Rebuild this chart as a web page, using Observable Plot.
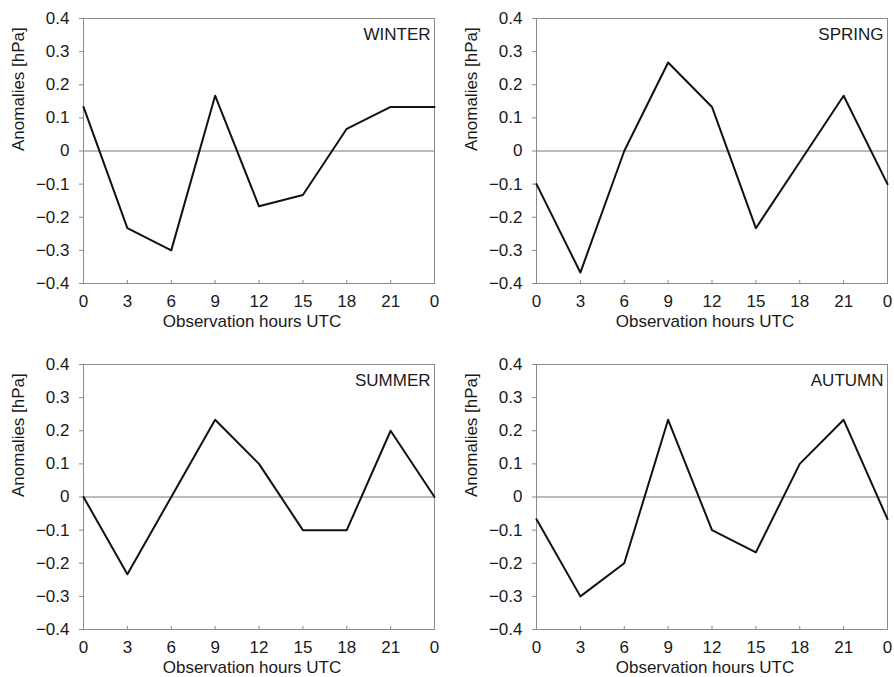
<!DOCTYPE html>
<html>
<head>
<meta charset="utf-8">
<script src="https://cdn.jsdelivr.net/npm/d3@7"></script>
<script src="https://cdn.jsdelivr.net/npm/@observablehq/plot@0.6"></script>
<style>
  html, body { margin: 0; padding: 0; background: #fff; }
  #chart { position: relative; width: 894px; height: 677px; overflow: hidden; font-family: "Liberation Sans", Arial, sans-serif; }
  .panel { position: absolute; }
</style>
</head>
<body>
<div id="chart"></div>
<script>
// Observation hours (0..21 UTC and 0 UTC of next day)
const hours = [0, 3, 6, 9, 12, 15, 18, 21, 24];
const hourLabels = ["0", "3", "6", "9", "12", "15", "18", "21", "0"];
const yTicks = [-0.4, -0.3, -0.2, -0.1, 0, 0.1, 0.2, 0.3, 0.4];

const seasons = ["WINTER", "SPRING", "SUMMER", "AUTUMN"];
const winter = [0.133, -0.233, -0.3, 0.167, -0.167, -0.133, 0.067, 0.133, 0.133];
const spring = [-0.1, -0.367, 0, 0.267, 0.133, -0.233, -0.033, 0.167, -0.1];
const summer = [0, -0.233, 0, 0.233, 0.1, -0.1, -0.1, 0.2, 0];
const autumn = [-0.067, -0.3, -0.2, 0.233, -0.1, -0.167, 0.1, 0.233, -0.067];

const xLabel = "Observation hours UTC";
const yLabel = "Anomalies [hPa]";

const seriesValues = [winter, spring, summer, autumn];
const layout = [
  {left: 0, top: 0, width: 447, marginRight: 13},
  {left: 453, top: 0, width: 441, marginRight: 7},
  {left: 0, top: 346, width: 447, marginRight: 13},
  {left: 453, top: 346, width: 441, marginRight: 7}
];

const fmtY = d => d === 0 ? "0" : (d < 0 ? "\u2212" : "") + Math.abs(d).toFixed(1);
const axisColor = "#8a8a8a";
const textColor = "#1a1a1a";
const fs = 17;

const chart = document.getElementById("chart");

seasons.forEach((name, i) => {
  const vals = seriesValues[i];
  const data = hours.map((h, j) => ({hour: h, value: vals[j]}));
  const L = layout[i];
  const svg = Plot.plot({
    width: L.width,
    height: 340,
    marginLeft: 83,
    marginRight: L.marginRight,
    marginTop: 18,
    marginBottom: 57,
    style: {fontFamily: '"Liberation Sans", Arial, sans-serif', fontSize: fs + "px", color: textColor, background: "transparent"},
    x: {domain: [0, 24]},
    y: {domain: [-0.4, 0.4]},
    marks: [
      Plot.ruleY([0], {stroke: "#777", strokeWidth: 1}),
      Plot.frame({stroke: axisColor, strokeWidth: 1}),
      Plot.axisY(yTicks, {tickSize: 4, tickPadding: 10, tickFormat: fmtY, stroke: axisColor, label: null, fill: textColor, fontSize: fs}),
      Plot.axisX(hours, {tickSize: 0, tickPadding: 11, tickFormat: d => hourLabels[hours.indexOf(d)], label: null, fill: textColor, fontSize: fs}),
      Plot.ruleX(hours, {x: d => d, y1: -0.4, y2: -0.4, insetTop: -3, stroke: axisColor}),
      Plot.line(data, {x: "hour", y: "value", stroke: "#111", strokeWidth: 2}),
      Plot.text([name], {frameAnchor: "top-right", dx: -4, dy: 9, textAnchor: "end", fill: textColor, fontSize: fs}),
      Plot.text([xLabel], {frameAnchor: "bottom", dx: -7, dy: 43, fill: textColor, fontSize: fs}),
      Plot.text([yLabel], {frameAnchor: "left", dx: -65, rotate: -90, fill: textColor, fontSize: fs})
    ]
  });
  const div = document.createElement("div");
  div.className = "panel";
  div.style.left = L.left + "px";
  div.style.top = L.top + "px";
  div.appendChild(svg);
  chart.appendChild(div);
});
</script>
</body>
</html>
